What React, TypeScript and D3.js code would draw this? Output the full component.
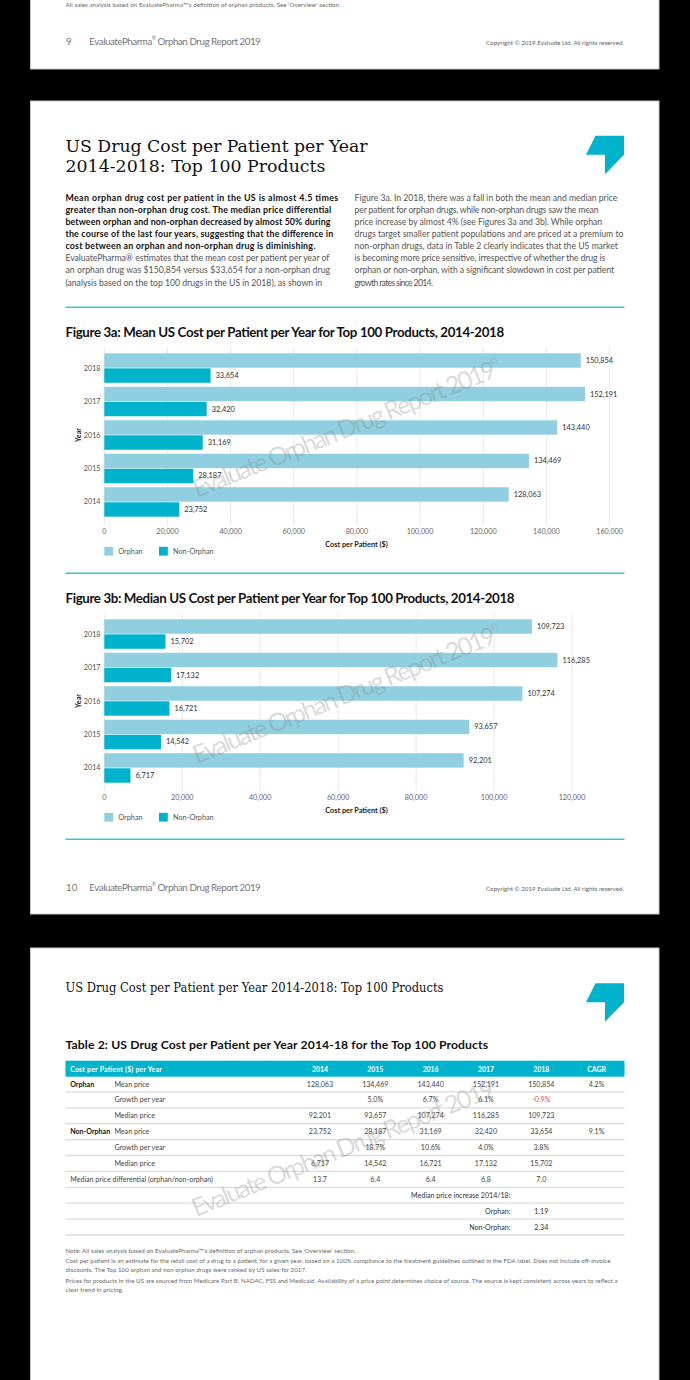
import React from "react";
import * as d3 from "d3";

// ---------- DATA ----------
const years = ["2014", "2015", "2016", "2017", "2018"];
const meanOrphan = [128063, 134469, 143440, 152191, 150854];
const meanNonOrphan = [23752, 28187, 31169, 32420, 33654];
const medianOrphan = [92201, 93657, 107274, 116285, 109723];
const medianNonOrphan = [6717, 14542, 16721, 17132, 15702];
const meanTicks = [0, 20000, 40000, 60000, 80000, 100000, 120000, 140000, 160000];
const medianTicks = [0, 20000, 40000, 60000, 80000, 100000, 120000];
const seriesNames = ["Orphan", "Non-Orphan"];

const tableColumns = ["2014", "2015", "2016", "2017", "2018", "CAGR"];
const orphanGrowth = ["", "5.0%", "6.7%", "6.1%", "-0.9%"];
const nonOrphanGrowth = ["", "18.7%", "10.6%", "4.0%", "3.8%"];
const medianDifferential = ["13.7", "6.4", "6.4", "6.8", "7.0"];
const cagrValues = ["4.2%", "9.1%"];
const medianIncreaseLabels = ["Orphan:", "Non-Orphan:"];
const medianIncreaseValues = ["1.19", "2.34"];

const ORPHAN = "#8fcfe0";
const NON = "#00b3cc";
const CYAN = "#00b3cc";
const SANS = "Lato, 'Open Sans', sans-serif";
const SERIF = "'DejaVu Serif', serif";

const fmt = d3.format(",");

type TL = { t: string; w?: number };

const leftBold: TL[] = [
  { t: "Mean orphan drug cost per patient in the US is almost 4.5 times", w: 272.8 },
  { t: "greater than non-orphan drug cost. The median price differential", w: 265.9 },
  { t: "between orphan and non-orphan decreased by almost 50% during", w: 265.1 },
  { t: "the course of the last four years, suggesting that the difference in", w: 267.9 },
  { t: "cost between an orphan and non-orphan drug is diminishing.", w: 249.9 },
];
const leftRegular: TL[] = [
  { t: "EvaluatePharma\u00ae estimates that the mean cost per patient per year of", w: 263.9 },
  { t: "an orphan drug was $150,854 versus $33,654 for a non-orphan drug", w: 264.7 },
  { t: "(analysis based on the top 100 drugs in the US in 2018), as shown in", w: 256.7 },
];
const rightRegular: TL[] = [
  { t: "Figure 3a. In 2018, there was a fall in both the mean and median price", w: 262.8 },
  { t: "per patient for orphan drugs, while non-orphan drugs saw the mean", w: 243.9 },
  { t: "price increase by almost 4% (see Figures 3a and 3b). While orphan", w: 247.5 },
  { t: "drugs target smaller patient populations and are priced at a premium to", w: 268.8 },
  { t: "non-orphan drugs, data in Table 2 clearly indicates that the US market", w: 263.2 },
  { t: "is becoming more price sensitive, irrespective of whether the drug is", w: 250.7 },
  { t: "orphan or non-orphan, with a significant slowdown in cost per patient", w: 259.6 },
  { t: "growth rates since 2014.", w: 78.4 },
];

function Watermark({ x, y }: { x: number; y: number }) {
  return (
    <text
      transform={`translate(${x},${y}) rotate(-22)`}
      fontFamily={SANS}
      fontSize={25}
      fill="#8a8a8a"
      fillOpacity={0.33}
      textLength={330}
    >
      Evaluate Orphan Drug Report 2019
      <tspan fontSize={9} dy={-13}>©</tspan>
    </text>
  );
}

function BarChart({
  dy,
  title,
  titleLen,
  orphan,
  nonOrphan,
  ticks,
  xMax,
  xRight,
}: {
  dy: number;
  title: string;
  titleLen: number;
  orphan: number[];
  nonOrphan: number[];
  ticks: number[];
  xMax: number;
  xRight: number;
}) {
  const x = d3.scaleLinear().domain([0, xMax]).range([104.3, xRight]);
  const order = [...years].reverse();
  const y = d3
    .scaleBand<string>()
    .domain(order)
    .range([351.3 + dy, 518.7 + dy])
    .paddingInner(0.12)
    .paddingOuter(0.06);
  const inner = d3
    .scaleBand<string>()
    .domain(seriesNames)
    .range([0, y.bandwidth()])
    .paddingInner(0.04);
  return (
    <g>
      <text x={65.5} y={331.5 + dy} dominantBaseline="central" fontFamily={SANS} fontWeight={700} fontSize={13.3} fill="#111" textLength={titleLen}>
        {title}
      </text>
      {ticks.map((t) => (
        <line key={"g" + t} x1={x(t)} x2={x(t)} y1={348 + dy} y2={525 + dy} stroke="#e8e8e8" strokeWidth={1} />
      ))}
      {years.map((yr, i) => {
        const y0 = y(yr)!;
        const vals = [orphan[i], nonOrphan[i]];
        return (
          <g key={yr}>
            {seriesNames.map((s, j) => {
              const by = y0 + inner(s)!;
              return (
                <g key={s}>
                  <rect x={x(0)} y={by} width={x(vals[j]) - x(0)} height={inner.bandwidth()} fill={j === 0 ? ORPHAN : NON} />
                  <text x={x(vals[j]) + 5} y={by + inner.bandwidth() / 2} dominantBaseline="central" fontFamily={SANS} fontSize={7.4} fill="#333">
                    {fmt(vals[j])}
                  </text>
                </g>
              );
            })}
            <text x={100.5} y={y0 + y.bandwidth() / 2} textAnchor="end" dominantBaseline="central" fontFamily={SANS} fontSize={7.2} fill="#555">
              {yr}
            </text>
          </g>
        );
      })}
      {ticks.map((t) => (
        <text key={"t" + t} x={x(t)} y={531 + dy} textAnchor="middle" dominantBaseline="central" fontFamily={SANS} fontSize={7.2} fill="#666">
          {fmt(t)}
        </text>
      ))}
      <text transform={`translate(78,${435 + dy}) rotate(-90)`} textAnchor="middle" dominantBaseline="central" fontFamily={SANS} fontWeight={700} fontSize={7.2} fill="#222">
        Year
      </text>
      <text x={356.5} y={544.3 + dy} textAnchor="middle" dominantBaseline="central" fontFamily={SANS} fontWeight={700} fontSize={7.3} fill="#222">
        Cost per Patient ($)
      </text>
      {seriesNames.map((s, j) => {
        const lx = j === 0 ? 104.3 : 159;
        return (
          <g key={"l" + s}>
            <rect x={lx} y={546.8 + dy} width={8.8} height={8.8} fill={j === 0 ? ORPHAN : NON} />
            <text x={lx + 14} y={551.2 + dy} dominantBaseline="central" fontFamily={SANS} fontSize={7.3} fill="#555">
              {s}
            </text>
          </g>
        );
      })}
      <Watermark x={197} y={498 + dy} />
    </g>
  );
}

function Footer({ y, num }: { y: number; num: string }) {
  return (
    <g fontFamily={SANS} fill="#777">
      <text x={66} y={y} dominantBaseline="central" fontSize={9.8}>{num}</text>
      <text x={89.3} y={y} dominantBaseline="central" fontSize={9.8} textLength={171.5}>
        EvaluatePharma<tspan fontSize={5} dy={-3}>®</tspan><tspan dy={3}> Orphan Drug Report 2019</tspan>
      </text>
      <text x={624} y={y + 0.8} textAnchor="end" dominantBaseline="central" fontSize={6.3} fill="#666" textLength={138}>
        Copyright © 2019 Evaluate Ltd. All rights reserved.
      </text>
    </g>
  );
}

function Logo({ x, y }: { x: number; y: number }) {
  const pts = [
    [x + 9.5, y],
    [x + 38, y],
    [x + 38, y + 19],
    [x + 19, y + 38.5],
    [x + 19, y + 19],
    [x, y + 19],
  ];
  return <polygon points={pts.map((p) => p.join(",")).join(" ")} fill="#00b3cc" />;
}

function Table() {
  const col = d3.scaleBand<string>().domain(tableColumns).range([292.3, 624.3]);
  const cx = (c: string) => col(c)! + col.bandwidth() / 2;
  const rowY = (i: number) => 1084 + 15.9 * i;
  const fs = 7.1;
  const rows: { group?: string; label: string; vals: string[]; cagr?: string }[] = [
    { group: "Orphan", label: "Mean price", vals: meanOrphan.map(fmt), cagr: cagrValues[0] },
    { label: "Growth per year", vals: orphanGrowth },
    { label: "Median price", vals: medianOrphan.map(fmt) },
    { group: "Non-Orphan", label: "Mean price", vals: meanNonOrphan.map(fmt), cagr: cagrValues[1] },
    { label: "Growth per year", vals: nonOrphanGrowth },
    { label: "Median price", vals: medianNonOrphan.map(fmt) },
  ];
  return (
    <g fontFamily={SANS}>
      <rect x={65.5} y={1060.7} width={559} height={16} fill={CYAN} />
      <text x={70.2} y={1068.9} dominantBaseline="central" fontSize={6.9} fontWeight={700} fill="#fff" textLength={91.6}>
        Cost per Patient ($) per Year
      </text>
      {tableColumns.map((c) => (
        <text key={c} x={cx(c)} y={1068.9} textAnchor="middle" dominantBaseline="central" fontSize={6.9} fontWeight={700} fill="#fff">
          {c}
        </text>
      ))}
      {d3.range(10).map((i) => (
        <line key={"s" + i} x1={65.5} x2={624.5} y1={rowY(i) + 7.9} y2={rowY(i) + 7.9} stroke="#dcdcdc" strokeWidth={1.3} />
      ))}
      {rows.map((r, i) => (
        <g key={"r" + i}>
          {r.group && (
            <text x={70.2} y={rowY(i)} dominantBaseline="central" fontSize={fs} fontWeight={700} fill="#111">
              {r.group}
            </text>
          )}
          <text x={114.4} y={rowY(i)} dominantBaseline="central" fontSize={fs} fill="#444">
            {r.label}
          </text>
          {r.vals.map((v, k) => (
            <text key={k} x={cx(years[k])} y={rowY(i)} textAnchor="middle" dominantBaseline="central" fontSize={fs} fill={v.startsWith("-") ? "#e8484b" : "#444"}>
              {v}
            </text>
          ))}
          {r.cagr && (
            <text x={cx("CAGR")} y={rowY(i)} textAnchor="middle" dominantBaseline="central" fontSize={fs} fill="#444">
              {r.cagr}
            </text>
          )}
        </g>
      ))}
      <text x={70.2} y={rowY(6)} dominantBaseline="central" fontSize={fs} fill="#444" textLength={142.8}>
        Median price differential (orphan/non-orphan)
      </text>
      {medianDifferential.map((v, k) => (
        <text key={"d" + k} x={cx(years[k])} y={rowY(6)} textAnchor="middle" dominantBaseline="central" fontSize={fs} fill="#444">
          {v}
        </text>
      ))}
      <text x={510.5} y={rowY(7)} textAnchor="end" dominantBaseline="central" fontSize={fs} fill="#333">
        Median price increase 2014/18:
      </text>
      {medianIncreaseLabels.map((l, k) => (
        <g key={"m" + k}>
          <text x={510.5} y={rowY(8 + k)} textAnchor="end" dominantBaseline="central" fontSize={fs} fill="#333">
            {l}
          </text>
          <text x={cx("2018")} y={rowY(8 + k)} textAnchor="middle" dominantBaseline="central" fontSize={fs} fill="#333">
            {medianIncreaseValues[k]}
          </text>
        </g>
      ))}
      <Watermark x={196} y={1217} />
    </g>
  );
}

export default function App() {
  return (
    <svg
      width={690}
      height={1380}
      viewBox="0 0 690 1380"
      style={{ position: "absolute", left: 0, top: 0, display: "block" }}
    >
      <rect x={0} y={0} width={690} height={1380} fill="#000" />
      {/* page 1 (bottom part) */}
      <rect x={30.5} y={-5} width={628.5} height={74} fill="#fff" stroke="#c8c8c8" strokeWidth={1} />
      <text x={65.5} y={4.3} dominantBaseline="central" fontFamily={SANS} fontSize={6.1} fill="#666" textLength={275}>
        All sales analysis based on EvaluatePharma™'s definition of orphan products, See 'Overview' section.
      </text>
      <Footer y={41.3} num="9" />

      {/* page 2 */}
      <rect x={30.5} y={101} width={628.5} height={813} fill="#fff" stroke="#c8c8c8" strokeWidth={1} />
      <text x={65.5} y={151.7} fontFamily={SERIF} fontStretch="condensed" fontSize={16.5} fill="#111" textLength={302} lengthAdjust="spacingAndGlyphs">
        US Drug Cost per Patient per Year
      </text>
      <text x={65.5} y={172.4} fontFamily={SERIF} fontStretch="condensed" fontSize={16.5} fill="#111" textLength={260} lengthAdjust="spacingAndGlyphs">
        2014-2018: Top 100 Products
      </text>
      <Logo x={586} y={135.7} />
      {leftBold.map((l, i) => (
        <text key={"lb" + i} x={65.4} y={197.3 + 12.1 * i} dominantBaseline="central" fontFamily={SANS} fontWeight={700} fontSize={8.9} fill="#111" textLength={l.w}>
          {l.t}
        </text>
      ))}
      {leftRegular.map((l, i) => (
        <text key={"lr" + i} x={65.4} y={197.3 + 12.1 * (i + 5)} dominantBaseline="central" fontFamily={SANS} fontSize={8.7} fill="#555" textLength={l.w}>
          {l.t}
        </text>
      ))}
      {rightRegular.map((l, i) => (
        <text key={"rr" + i} x={354.6} y={197.3 + 12.1 * i} dominantBaseline="central" fontFamily={SANS} fontSize={8.7} fill="#555" textLength={l.w}>
          {l.t}
        </text>
      ))}
      <line x1={65.5} x2={624.5} y1={307.3} y2={307.3} stroke="#43bdd5" strokeWidth={1.4} />
      <BarChart
        dy={0}
        title="Figure 3a: Mean US Cost per Patient per Year for Top 100 Products, 2014-2018"
        titleLen={438.6}
        orphan={meanOrphan}
        nonOrphan={meanNonOrphan}
        ticks={meanTicks}
        xMax={160000}
        xRight={609.6}
      />
      <line x1={65.5} x2={624.5} y1={573.3} y2={573.3} stroke="#43bdd5" strokeWidth={1.4} />
      <BarChart
        dy={266}
        title="Figure 3b: Median US Cost per Patient per Year for Top 100 Products, 2014-2018"
        titleLen={449}
        orphan={medianOrphan}
        nonOrphan={medianNonOrphan}
        ticks={medianTicks}
        xMax={120000}
        xRight={572}
      />
      <line x1={65.5} x2={624.5} y1={839.3} y2={839.3} stroke="#43bdd5" strokeWidth={1.4} />
      <Footer y={887.3} num="10" />

      {/* page 3 */}
      <rect x={30.5} y={948} width={628.5} height={440} fill="#fff" stroke="#c8c8c8" strokeWidth={1} />
      <text x={65.5} y={992.3} fontFamily={SERIF} fontStretch="condensed" fontSize={12.3} fill="#111" textLength={378} lengthAdjust="spacingAndGlyphs">
        US Drug Cost per Patient per Year 2014-2018: Top 100 Products
      </text>
      <Logo x={586} y={983.3} />
      <text x={65.5} y={1044.7} dominantBaseline="central" fontFamily={SANS} fontWeight={700} fontSize={12.2} fill="#111" textLength={422.5}>
        Table 2: US Drug Cost per Patient per Year 2014-18 for the Top 100 Products
      </text>
      <Table />
      <g fontFamily={SANS} fontSize={6.1} fill="#666">
        <text x={65.5} y={1250.7} dominantBaseline="central" textLength={290}>
          Note: All sales analysis based on EvaluatePharma™'s definition of orphan products, See 'Overview' section.
        </text>
        <text x={65.5} y={1260.3} dominantBaseline="central" textLength={545}>
          Cost per patient is an estimate for the retail cost of a drug to a patient, for a given year, based on a 100% compliance to the treatment guidelines outlined in the FDA label. Does not include off-invoice
        </text>
        <text x={65.5} y={1269.2} dominantBaseline="central" textLength={241}>
          discounts. The Top 100 orphan and non orphan drugs were ranked by US sales for 2017.
        </text>
        <text x={65.5} y={1280.2} dominantBaseline="central" textLength={552}>
          Prices for products in the US are sourced from Medicare Part B, NADAC, FSS and Medicaid. Availability of a price point determines choice of source. The source is kept consistent across years to reflect a
        </text>
        <text x={65.5} y={1289.2} dominantBaseline="central" textLength={57.7}>
          clear trend in pricing.
        </text>
      </g>
    </svg>
  );
}
